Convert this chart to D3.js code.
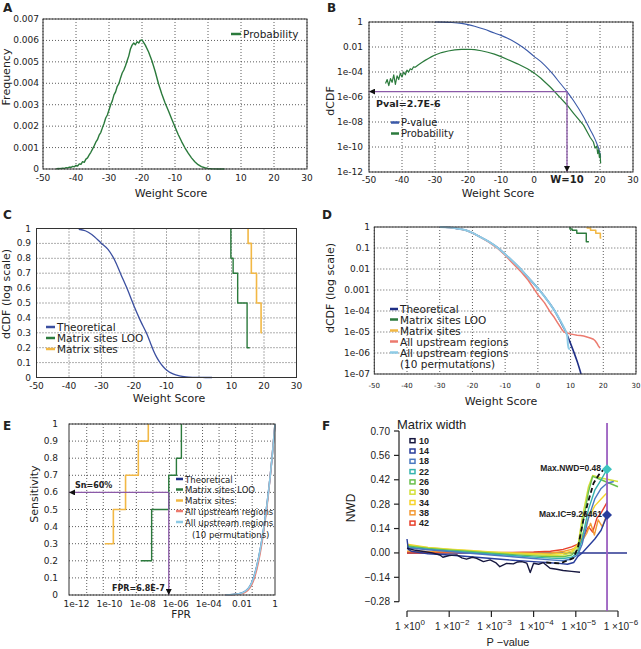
<!DOCTYPE html>
<html><head><meta charset="utf-8">
<script src="https://cdn.jsdelivr.net/npm/d3@7"></script>
<style>
body{margin:0;background:#fff}
svg{display:block}
text{font-family:"DejaVu Sans",sans-serif;fill:#222}
.grid{stroke:#333;stroke-width:0.8;stroke-dasharray:1 2;fill:none}
.frame{stroke:#333;stroke-width:1;fill:none}
.f text{font-family:"Liberation Sans",Arial,sans-serif}
</style>
</head><body><svg id="c" width="641" height="649"></svg>
<script>
// ---------------- DATA ----------------
// Panel A : probability distribution of weight scores
const aScore=[-46,-45,-44,-43.5,-43,-42.5,-42,-41.5,-41,-40.5,-40,-39.5,-39,-38.5,-38,-37.5,-37,-36.5,-36,-35.5,-35,-34.5,-34,-33.5,-33,-32.5,-32,-31.5,-31,-30.5,-30,-29.5,-29,-28.5,-28,-27.5,-27,-26.5,-26,-25.5,-25,-24.5,-24,-23.5,-23,-22.5,-22,-21.5,-21,-20.5,-20,-19,-18,-17,-16,-15,-14,-13,-12,-11,-10,-9,-8,-7,-6,-5,-4,-3,-2,-1,0,1,2,3,4,5];
const aFreq=[0.00001,0.00002,0.00004,0.00003,0.00006,0.00005,0.00009,0.00008,0.00012,0.00010,0.00017,0.00014,0.00024,0.00022,0.00034,0.00031,0.00046,0.00052,0.00066,0.00078,0.00093,0.00108,0.00125,0.00137,0.00158,0.00170,0.00192,0.00212,0.00238,0.00252,0.00275,0.00300,0.00318,0.00346,0.00360,0.00386,0.00398,0.00425,0.00448,0.00462,0.00482,0.00505,0.00528,0.00560,0.00578,0.00588,0.00580,0.00594,0.00588,0.00600,0.00603,0.00578,0.00546,0.00505,0.00455,0.00398,0.00350,0.00308,0.00272,0.00233,0.00196,0.00160,0.00128,0.00099,0.00074,0.00052,0.00034,0.00020,0.00011,0.00006,0.00003,0.000015,0.000006,0.000002,0.000001,0];
const aXTicks=[-50,-40,-30,-20,-10,0,10,20,30];
const aYTicks=[0,0.001,0.002,0.003,0.004,0.005,0.006,0.007];

// Panel B : P-value and probability (log)
const bPScore=[-30,-28,-25,-22,-20,-18,-15,-12,-10,-8,-5,-2,0,2,5,8,10,12,15,17,18,19,20,20.2];
const bPVal=[1,0.98,0.92,0.78,0.62,0.46,0.26,0.13,0.085,0.05,0.018,0.005,0.0018,0.0007,0.00011,0.000012,0.0000027,5e-7,2.6e-8,2.5e-9,8e-10,2e-10,3e-11,1.5e-11];
const bGScore=[-45,-44.5,-44,-43.5,-43,-42.5,-42,-41.5,-41,-40.5,-40,-39.5,-39,-38.5,-38,-37.5,-37,-36.5,-36,-35,-34,-33,-32,-31,-30,-28,-26,-24,-22,-20,-18,-16,-14,-12,-10,-8,-5,-2,0,2,5,8,10,12,15,17,18,18.5,19,19.3,19.6,19.8,20,20.2];
const bGVal=[1.2e-5,2.5e-5,8e-6,3e-5,1.5e-5,6e-5,1e-5,5e-5,2.5e-5,8e-5,4e-5,1e-4,6e-5,1.4e-4,1e-4,1.8e-4,1.5e-4,2.6e-4,2.4e-4,3.8e-4,5.8e-4,8.5e-4,1.2e-3,1.7e-3,2.3e-3,3.6e-3,4.8e-3,5.8e-3,6.4e-3,6.6e-3,6.1e-3,5e-3,3.8e-3,2.7e-3,1.7e-3,1e-3,4.5e-4,1.8e-4,8.5e-5,3.3e-5,6e-6,8.5e-7,2.3e-7,5e-8,5.6e-9,6e-10,2.5e-10,8e-11,1.2e-10,3e-11,6e-11,1.5e-11,3e-11,5e-12];
const bYTicks=[1,1e-2,1e-4,1e-6,1e-8,1e-10,1e-12];
const bYLabels=["1","0.01","1e-04","1e-06","1e-08","1e-10","1e-12"];
const bXLabels=["-50","-40","-30","-20","-10","0","W=10","20","30"];
const bThreshScore=10, bThreshP=2.7e-6;

// Panel C : dCDF linear
const cTheoScore=[-37,-35,-33,-30,-28,-26,-24,-22,-20,-18,-16,-15,-14,-13,-12,-11,-10,-8,-6,-4,-2,0,2,4];
const cTheoVal=[0.995,0.985,0.96,0.9,0.86,0.79,0.69,0.59,0.48,0.38,0.29,0.235,0.18,0.135,0.1,0.072,0.05,0.024,0.011,0.0045,0.0015,0.0004,0.0001,0];
const looScore=[9.8,10.5,11.9,14.8,15.6];
const looVal=[1,0.8,0.7,0.5,0.2];
const siteScore=[15.1,16.1,17.7,19.1,19.4];
const siteVal=[1,0.9,0.7,0.5,0.3];
const cYTicks=[0,0.1,0.2,0.3,0.4,0.5,0.6,0.7,0.8,0.9,1];

// Panel D : dCDF log
const dTheoScore=[-30,-27,-25,-22,-20,-18,-15,-12,-10,-8,-5,-3,0,2,5,7,8,9,10,11,12,13.2];
const dTheoVal=[1,0.95,0.86,0.7,0.52,0.36,0.2,0.095,0.05,0.026,9e-3,4e-3,1.2e-3,5e-4,1.1e-4,3e-5,1.5e-5,7e-6,2.8e-6,1.1e-6,4e-7,1e-7];
const dUpScore=[-30,-27,-25,-22,-20,-18,-15,-12,-10,-8,-5,-3,0,2,4,5,6,7,7.5,8,9,10,11,12,13,14,15,16,17,17.5,18,18.5,19];
const dUpVal=[1,0.95,0.86,0.7,0.52,0.36,0.19,0.088,0.045,0.021,7e-3,3e-3,6e-4,2.5e-4,8e-5,5e-5,2.8e-5,1.6e-5,1.2e-5,1e-5,9e-6,8e-6,7.5e-6,7e-6,6.8e-6,6.5e-6,5.8e-6,5.2e-6,4.5e-6,3.8e-6,3e-6,2.2e-6,1.7e-6];
const dPermScore=[-30,-27,-25,-22,-20,-18,-15,-12,-10,-8,-5,-3,0,2,5,7,8,8.5,9,9.2,9.5,9.8];
const dPermVal=[1,0.95,0.86,0.7,0.52,0.36,0.2,0.095,0.05,0.026,9e-3,4e-3,1.2e-3,5e-4,1.1e-4,3.2e-5,1.6e-5,1.1e-5,6e-6,2.5e-6,1.6e-6,1.5e-6];
const dYTicks=[1,0.1,0.01,0.001,1e-4,1e-5,1e-6,1e-7];
const dYLabels=["1","0.1","0.01","0.001","1e-04","1e-05","1e-06","1e-07"];

// Panel E : ROC (FPR log vs sensitivity)
const eSiteFpr=[5.1e-11,1.7e-10,9.3e-10,5.5e-9,2.2e-8];
const eSiteSens=[0.3,0.5,0.7,0.9,1.0];
const eLooFpr=[7.6e-9,3.5e-8,3.8e-7,1.1e-6,2.2e-6];
const eLooSens=[0.2,0.5,0.7,0.8,1.0];
const eTheoFpr=[1e-3,3e-3,0.01,0.03,0.08,0.2,0.4,0.63,0.9,1];
const eTheoSens=[0,0.003,0.012,0.05,0.17,0.38,0.6,0.78,0.95,1];
const eUpSens=[0,0.002,0.008,0.04,0.15,0.36,0.59,0.78,0.95,1];
const eXTicks=[1e-12,1e-10,1e-8,1e-6,1e-4,1e-2,1];
const eXLabels=["1e-12","1e-10","1e-08","1e-06","1e-04","0.01","1"];
const eGridExp=[-11.38,-10.38,-9.38,-8.38,-7.38,-6.38,-5.38,-4.38,-3.38,-2.38,-1.38];
const eFprCut=3.8e-7, eSnCut=0.6;

// Panel F : NWD vs P-value for matrix widths
const fWidths=["10","14","18","22","26","30","34","38","42"];
const fColors=["#16173f","#283d9b","#4a78c0","#35b3ad","#6abf4b","#d4e03a","#f6d32b","#f39a35","#e8412b"];
const f10U=[0,0.2,0.4,0.6,0.78,0.85,1.0,1.18,1.3,1.41,1.55,1.65,1.81,1.97,2.1,2.2,2.36,2.52,2.62,2.72,2.84,2.92,3.0,3.12,3.23,3.39,3.55,3.7,3.9,4.1];
const f10V=[0.027,0.015,0.008,0.0,-0.012,-0.025,-0.015,-0.011,-0.028,-0.036,-0.025,-0.031,-0.05,-0.04,-0.055,-0.079,-0.06,-0.063,-0.052,-0.05,-0.059,-0.113,-0.059,-0.065,-0.056,-0.088,-0.094,-0.101,-0.106,-0.111];
const f14U=[0,0.03,0.1,0.5,1,1.5,2,2.5,3,3.3,3.6,3.8,3.95,4.05,4.15,4.3,4.45,4.6,4.74];
const f14V=[0.08,0.02,0.01,-0.005,-0.012,-0.022,-0.032,-0.042,-0.05,-0.055,-0.06,-0.065,-0.055,-0.02,0.0,0.04,0.08,0.13,0.215];
const f18U=[0,0.5,1,1.5,2,2.5,3,3.4,3.7,3.9,4.05,4.15,4.3,4.45,4.6,4.74,4.9];
const f18V=[0.03,0.018,0.008,-0.002,-0.012,-0.022,-0.032,-0.04,-0.045,-0.035,-0.01,0.05,0.2,0.31,0.37,0.4,0.41];
const f22U=[0,0.5,1,1.5,2,2.5,3,3.4,3.7,3.9,4.05,4.15,4.3,4.45,4.6,4.74];
const f22V=[0.035,0.022,0.012,0.003,-0.006,-0.015,-0.024,-0.03,-0.032,-0.025,0.0,0.08,0.25,0.36,0.42,0.48];
const f26U=[0,0.5,1,1.5,2,2.5,3,3.4,3.7,3.9,4.05,4.15,4.3,4.4,4.6,4.8,5.0];
const f26V=[0.04,0.026,0.016,0.008,-0.002,-0.01,-0.017,-0.022,-0.022,-0.012,0.02,0.15,0.35,0.44,0.42,0.4,0.38];
const f30U=[0,0.5,1,1.5,2,2.5,3,3.4,3.7,3.9,4.05,4.15,4.3,4.4,4.6,4.8,5.0];
const f30V=[0.045,0.03,0.02,0.012,0.004,-0.004,-0.01,-0.015,-0.012,0.0,0.04,0.2,0.38,0.445,0.43,0.42,0.41];
const f34U=[0,0.5,1,1.5,2,2.5,3,3.4,3.7,3.9,4.05,4.15,4.3,4.45,4.6,4.74];
const f34V=[0.05,0.032,0.022,0.014,0.006,0.0,-0.005,-0.008,-0.002,0.01,0.05,0.1,0.2,0.27,0.31,0.345];
const f38U=[0,0.5,1,1.5,2,2.5,3,3.4,3.7,3.9,4.05,4.14,4.26,4.35,4.44,4.53,4.63,4.73];
const f38V=[0.01,0.008,0.006,0.004,0.002,0.0,-0.002,0.0,0.008,0.02,0.035,0.065,0.113,0.17,0.103,0.19,0.15,0.218];
const f42U=[0,0.5,1,1.5,2,2.5,3,3.4,3.7,3.9,4.05,4.2,4.3,4.4,4.5,4.6,4.74];
const f42V=[0.0,0.001,0.002,0.002,0.002,0.003,0.005,0.01,0.02,0.035,0.05,0.1,0.15,0.12,0.2,0.23,0.29];
const fDashU=[3.3,3.63,3.94,4.05,4.18,4.3,4.42,4.55,4.65];
const fDashV=[-0.055,-0.06,-0.03,0.03,0.19,0.3,0.4,0.45,0.476];
const fYTicks=[0.70,0.56,0.42,0.28,0.14,0.00,-0.14,-0.28];
const fXTicks=[0,1,2,3,4,5];
const fXExp=["0","\u22122","\u22123","\u22124","\u22125","\u22126"];
const fCut=4.74, fMaxNWD=0.48, fMaxIC=0.218;

// ---------------- DRAW ----------------
const svg=d3.select("#c");
const defs=svg.append("defs");
defs.append("marker").attr("id","arr").attr("viewBox","0 0 10 10").attr("refX",10).attr("refY",5)
  .attr("markerWidth",7).attr("markerHeight",6).attr("markerUnits","userSpaceOnUse").attr("orient","auto")
  .append("path").attr("d","M0,0L10,5L0,10z").attr("fill","#111");

function zip(a,b){return a.map((v,i)=>[v,b[i]]);}
function grid(g,xs,ys,xg,yg){
  const [l,r]=xs.range(),[b,t]=ys.range();
  g.append("g").selectAll("line").data(xg).join("line").attr("class","grid")
    .attr("x1",d=>xs(d)).attr("x2",d=>xs(d)).attr("y1",t).attr("y2",b);
  g.append("g").selectAll("line").data(yg).join("line").attr("class","grid")
    .attr("y1",d=>ys(d)).attr("y2",d=>ys(d)).attr("x1",l).attr("x2",r);
}
function frame(g,xs,ys){
  const [l,r]=xs.range(),[b,t]=ys.range();
  g.append("rect").attr("class","frame").attr("x",l).attr("y",t).attr("width",r-l).attr("height",b-t);
}
function xLab(g,xs,vals,labels,y,size){
  g.append("g").selectAll("text").data(vals).join("text").attr("x",d=>xs(d)).attr("y",y)
    .attr("text-anchor","middle").attr("font-size",size).text((d,i)=>labels[i]);
}
function yLab(g,ys,vals,labels,x,size){
  g.append("g").selectAll("text").data(vals).join("text").attr("x",x).attr("y",d=>ys(d))
    .attr("text-anchor","end").attr("dominant-baseline","central").attr("font-size",size).text((d,i)=>labels[i]);
}
function path(g,xs,ys,pts,color,w,curve){
  const ln=d3.line().x(d=>xs(d[0])).y(d=>ys(d[1]));
  if(curve) ln.curve(curve);
  return g.append("path").attr("d",ln(pts)).attr("fill","none").attr("stroke",color).attr("stroke-width",w).attr("stroke-linejoin","round");
}
function legend(g,items,x,ys,size,len){
  items.forEach((it,i)=>{
    g.append("line").attr("x1",x).attr("x2",x+len).attr("y1",ys[i]).attr("y2",ys[i]).attr("stroke",it[1]).attr("stroke-width",2.5);
    g.append("text").attr("x",x+len+2).attr("y",ys[i]).attr("dominant-baseline","central").attr("font-size",size).text(it[0]);
  });
}
function letter(t,x,y){svg.append("text").attr("x",x).attr("y",y).attr("font-weight","bold").attr("font-size","12px").text(t);}
function vlabel(t,x,y,size){svg.append("text").attr("transform",`translate(${x},${y}) rotate(-90)`).attr("text-anchor","middle").attr("font-size",size).text(t);}

const GREEN="#2b7a3c", BLUE="#3a59a8", ORANGE="#f2b845", PINK="#ec7a6e", LBLUE="#8ecbe6", DBLUE="#1f2f86", PURPLE="#8b5aa8";

// ---- A ----
{
  const g=svg.append("g");
  const xs=d3.scaleLinear().domain([-50,30]).range([43,307]);
  const ys=d3.scaleLinear().domain([0,0.007]).range([169,19]);
  grid(g,xs,ys,aXTicks,aYTicks);
  path(g,xs,ys,zip(aScore,aFreq),GREEN,1.4);
  frame(g,xs,ys);
  xLab(g,xs,aXTicks,aXTicks.map(String),181,"9px");
  yLab(g,ys,aYTicks,aYTicks.map(d=>d===0?"0":d.toFixed(3)),39,"9px");
  legend(g,[["Probability",GREEN]],231,[34],"10.5px",10);
  g.append("text").attr("x",171).attr("y",197).attr("text-anchor","middle").attr("font-size","11px").text("Weight Score");
  vlabel("Frequency",10,77,"11px");
  letter("A",3,12);
}
// ---- B ----
{
  const g=svg.append("g");
  const xs=d3.scaleLinear().domain([-50,30]).range([369,633]);
  const ys=d3.scaleLog().domain([1e-12,1]).range([172,22]);
  grid(g,xs,ys,aXTicks,bYTicks);
  path(g,xs,ys,zip(bPScore,bPVal),BLUE,1.1,d3.curveMonotoneX);
  path(g,xs,ys,zip(bGScore,bGVal),GREEN,1.2);
  frame(g,xs,ys);
  g.append("line").attr("x1",xs(bThreshScore)).attr("x2",xs(-50)).attr("y1",ys(bThreshP)).attr("y2",ys(bThreshP))
    .attr("stroke",PURPLE).attr("stroke-width",1.3).attr("marker-end","url(#arr)");
  g.append("line").attr("x1",xs(bThreshScore)).attr("x2",xs(bThreshScore)).attr("y1",ys(bThreshP)).attr("y2",ys(1e-12))
    .attr("stroke",PURPLE).attr("stroke-width",1.3).attr("marker-end","url(#arr)");
  g.append("text").attr("x",376).attr("y",107).attr("font-weight","bold").attr("font-size","9.5px").text("Pval=2.7E-6");
  g.append("g").selectAll("text").data(aXTicks).join("text").attr("x",d=>xs(d)).attr("y",183)
    .attr("text-anchor","middle").attr("font-size",(d,i)=>i===6?"10px":"9px").attr("font-weight",(d,i)=>i===6?"bold":"normal")
    .text((d,i)=>bXLabels[i]);
  yLab(g,ys,bYTicks,bYLabels,363,"9px");
  legend(g,[["P-value",BLUE],["Probability",GREEN]],391,[122.5,133.5],"10px",8);
  g.append("text").attr("x",498).attr("y",197).attr("text-anchor","middle").attr("font-size","11px").text("Weight Score");
  vlabel("dCDF",334,101,"11px");
  letter("B",327,12);
}
// ---- C ----
{
  const g=svg.append("g");
  const xs=d3.scaleLinear().domain([-50,30]).range([36.5,296.5]);
  const ys=d3.scaleLinear().domain([0,1]).range([377.5,228.5]);
  grid(g,xs,ys,aXTicks,cYTicks);
  path(g,xs,ys,zip(cTheoScore,cTheoVal),"#3b4fa0",1.3,d3.curveMonotoneX);
  path(g,xs,ys,zip(looScore,looVal),GREEN,1.4,d3.curveStepBefore);
  path(g,xs,ys,zip(siteScore,siteVal),ORANGE,1.6,d3.curveStepBefore);
  frame(g,xs,ys);
  xLab(g,xs,aXTicks,aXTicks.map(String),389,"9px");
  yLab(g,ys,cYTicks,cYTicks.map(d=>d===0?"0":d===1?"1":d.toFixed(1)),31,"9px");
  legend(g,[["Theoretical","#3b4fa0"],["Matrix sites LOO",GREEN],["Matrix sites",ORANGE]],46,[327,338,349],"10.5px",9);
  g.append("text").attr("x",169).attr("y",402).attr("text-anchor","middle").attr("font-size","11px").text("Weight Score");
  vlabel("dCDF (log scale)",10,294,"11px");
  letter("C",3,219);
}
// ---- D ----
{
  const g=svg.append("g");
  const xs=d3.scaleLinear().domain([-50,30]).range([374.3,636]);
  const ys=d3.scaleLog().domain([1e-7,1]).range([374,227]);
  grid(g,xs,ys,aXTicks,dYTicks);
  path(g,xs,ys,zip(dTheoScore,dTheoVal),DBLUE,1.6,d3.curveMonotoneX);
  path(g,xs,ys,zip(dUpScore,dUpVal),PINK,1.5);
  path(g,xs,ys,zip(dPermScore,dPermVal),LBLUE,2,d3.curveMonotoneX);
  path(g,xs,ys,zip(looScore,looVal),GREEN,1.4,d3.curveStepBefore);
  path(g,xs,ys,zip(siteScore,siteVal),ORANGE,1.6,d3.curveStepBefore);
  frame(g,xs,ys);
  xLab(g,xs,aXTicks,aXTicks.map(String),388,"7px");
  yLab(g,ys,dYTicks,dYLabels,370,"9px");
  legend(g,[["Theoretical",DBLUE],["Matrix sites LOO",GREEN],["Matrix sites",ORANGE],["All upstream regions",PINK],["All upstream regions",LBLUE]],390,[309,319.5,330.5,341.5,352.5],"10.5px",8);
  g.append("text").attr("x",400).attr("y",364).attr("dominant-baseline","central").attr("font-size","10.5px").text("(10 permutations)");
  g.append("text").attr("x",501).attr("y",405).attr("text-anchor","middle").attr("font-size","11px").text("Weight Score");
  vlabel("dCDF (log scale)",334,288,"11px");
  letter("D",322,219);
}
// ---- E ----
{
  const g=svg.append("g");
  const xs=d3.scaleLog().domain([Math.pow(10,-12.45),1]).range([69,275]);
  const ys=d3.scaleLinear().domain([0,1]).range([595,424]);
  grid(g,xs,ys,eGridExp.map(e=>Math.pow(10,e)),cYTicks);
  path(g,xs,ys,zip(eTheoFpr,eTheoSens),DBLUE,1.5,d3.curveMonotoneX);
  path(g,xs,ys,zip(eTheoFpr,eUpSens),PINK,1.5,d3.curveMonotoneX);
  path(g,xs,ys,zip(eTheoFpr,eTheoSens),LBLUE,1.6,d3.curveMonotoneX);
  path(g,xs,ys,zip(eSiteFpr,eSiteSens),ORANGE,1.6,d3.curveStepAfter);
  path(g,xs,ys,zip(eLooFpr,eLooSens),GREEN,1.4,d3.curveStepAfter);
  g.append("line").attr("x1",xs(eFprCut)).attr("x2",xs(Math.pow(10,-12.45))).attr("y1",ys(eSnCut)).attr("y2",ys(eSnCut))
    .attr("stroke",PURPLE).attr("stroke-width",1.3).attr("marker-end","url(#arr)");
  g.append("line").attr("x1",xs(eFprCut)).attr("x2",xs(eFprCut)).attr("y1",ys(eSnCut)).attr("y2",ys(0))
    .attr("stroke",PURPLE).attr("stroke-width",1.3).attr("marker-end","url(#arr)");
  frame(g,xs,ys);
  g.append("text").attr("x",75).attr("y",488).attr("font-weight","bold").attr("font-size","8px").text("Sn=60%");
  g.append("text").attr("x",112).attr("y",591).attr("font-weight","bold").attr("font-size","8px").text("FPR=6.8E-7");
  xLab(g,xs,eXTicks,eXLabels,607,"9px");
  yLab(g,ys,cYTicks,cYTicks.map(d=>d===0?"0":d===1?"1":d.toFixed(1)),58,"9px");
  const lg=g.append("g");
  legend(lg,[["Theoretical",DBLUE],["Matrix sites LOO",GREEN],["Matrix sites",ORANGE],["All upstream regions",PINK],["All upstream regions",LBLUE]],176,[479,489.5,500.5,511,522],"9.5px",7);
  lg.selectAll("text").style("font-family","DejaVu Sans Condensed");
  g.append("text").attr("x",192).attr("y",534).attr("dominant-baseline","central").attr("font-size","9.5px").style("font-family","DejaVu Sans Condensed").text("(10 permutations)");
  g.append("text").attr("x",181).attr("y",618).attr("text-anchor","middle").attr("font-size","10.5px").text("FPR");
  vlabel("Sensitivity",38,494,"11px");
  letter("E",3,430);
}
// ---- F ----
{
  const g=svg.append("g").attr("class","f");
  const xs=d3.scaleLinear().domain([0,5]).range([407,618]);
  const ys=d3.scaleLinear().domain([-0.28,0.70]).range([601.7,431]);
  g.append("line").attr("x1",399).attr("x2",399).attr("y1",ys(0.70)).attr("y2",ys(-0.28)).attr("stroke","#222").attr("stroke-width",1.2);
  g.append("g").selectAll("line").data(fYTicks).join("line").attr("x1",394).attr("x2",399)
    .attr("y1",d=>ys(d)).attr("y2",d=>ys(d)).attr("stroke","#222").attr("stroke-width",1.2);
  g.append("g").selectAll("text").data(fYTicks).join("text").attr("x",390).attr("y",d=>ys(d))
    .attr("text-anchor","end").attr("dominant-baseline","central").attr("font-size","10px")
    .text(d=>(d<0?"\u2212":"")+Math.abs(d).toFixed(2));
  g.append("line").attr("y1",611).attr("y2",611).attr("x1",xs(0)).attr("x2",xs(5)).attr("stroke","#222").attr("stroke-width",1.2);
  g.append("g").selectAll("line").data(fXTicks).join("line").attr("y1",611).attr("y2",617)
    .attr("x1",d=>xs(d)).attr("x2",d=>xs(d)).attr("stroke","#222").attr("stroke-width",1.2);
  const xt=g.append("g").selectAll("text").data(fXTicks).join("text").attr("x",d=>xs(d)+3).attr("y",630)
    .attr("text-anchor","middle").attr("font-size","10px");
  xt.append("tspan").text("1 \u00d710");
  xt.append("tspan").attr("dy",-5).attr("font-size","8px").text((d,i)=>fXExp[i]);
  g.append("line").attr("x1",xs(0)).attr("x2",627).attr("y1",ys(0)).attr("y2",ys(0)).attr("stroke","#2a3590").attr("stroke-width",1.5);
  const us=[f10U,f14U,f18U,f22U,f26U,f30U,f34U,f38U,f42U];
  const vs=[f10V,f14V,f18V,f22V,f26V,f30V,f34V,f38V,f42V];
  const order=[8,7,6,5,4,3,2,1,0];
  order.forEach(i=>path(g,xs,ys,zip(us[i],vs[i]),fColors[i],1.4));
  path(g,xs,ys,zip(fDashU,fDashV),"#111",1.8).attr("stroke-dasharray","5 3");
  g.append("line").attr("x1",xs(fCut)).attr("x2",xs(fCut)).attr("y1",423).attr("y2",611).attr("stroke","#9b5fc0").attr("stroke-width",1.8);
  const dia=d3.symbol(d3.symbolSquare,50);
  g.append("path").attr("d",dia()).attr("transform",`translate(${xs(fCut)},${ys(fMaxNWD)}) rotate(45)`).attr("fill","#3cc3c0");
  g.append("path").attr("d",dia()).attr("transform",`translate(${xs(fCut)},${ys(fMaxIC)}) rotate(45)`).attr("fill","#283d9b");
  g.append("text").attr("x",601).attr("y",ys(fMaxNWD)+2).attr("text-anchor","end").attr("font-weight","bold").attr("font-size","8.5px").text("Max.NWD=0.48");
  g.append("text").attr("x",602).attr("y",ys(fMaxIC)+2).attr("text-anchor","end").attr("font-weight","bold").attr("font-size","8.5px").text("Max.IC=9.26461");
  g.append("text").attr("x",397).attr("y",429).attr("font-size","13px").text("Matrix width");
  fWidths.forEach((w,i)=>{
    const y=440.7+i*10.3;
    g.append("rect").attr("x",410).attr("y",y-2).attr("width",5).attr("height",4).attr("fill","#fff").attr("stroke",fColors[i]).attr("stroke-width",1.5);
    g.append("text").attr("x",419).attr("y",y).attr("dominant-baseline","central").attr("font-weight","bold").attr("font-size","9px").text(w);
  });
  g.append("text").attr("x",508).attr("y",646).attr("text-anchor","middle").attr("font-size","11px").text("P \u2212value");
  g.append("text").attr("transform","translate(355,508) rotate(-90)").attr("text-anchor","middle").attr("font-size","12px").text("NWD");
  letter("F",322,430);
}
</script>
</body></html>
